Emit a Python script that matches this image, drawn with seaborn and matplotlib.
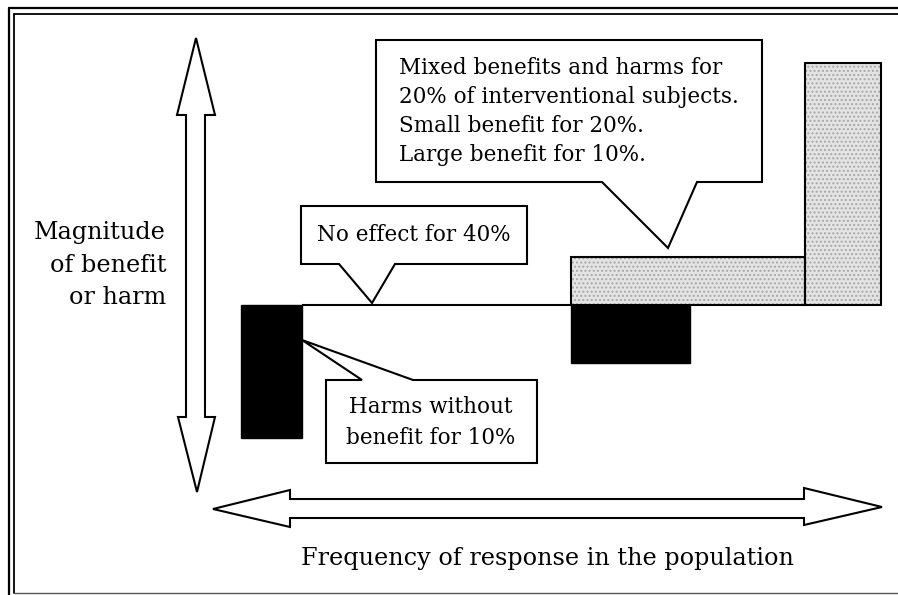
import matplotlib
matplotlib.use("Agg")
import matplotlib.pyplot as plt
from matplotlib.patches import Polygon
import seaborn as sns
import pandas as pd

# Response segments (x in % of population, y = magnitude, arbitrary units)
segments = ["Harms without benefit", "Mixed harm", "Mixed + small benefit", "Large benefit"]
seg_left = [0.0, 51.8, 51.8, 88.5]
seg_width = [9.6, 18.7, 36.7, 11.9]
seg_height = [-5.5, -2.4, 2.0, 10.0]
seg_shade = ["black", "black", "stipple", "stipple"]

# No-effect stretch sits on the baseline
no_effect_start = 9.6
no_effect_end = 51.8

# Text
y_label = ["Magnitude", "of benefit", "or harm"]
x_label = "Frequency of response in the population"
mixed_text = ["Mixed benefits and harms for",
              "20% of interventional subjects.",
              "Small benefit for 20%.",
              "Large benefit for 10%."]
no_effect_text = "No effect for 40%"
harms_text = ["Harms without", "benefit for 10%"]

df = pd.DataFrame({"segment": segments, "left": seg_left, "width": seg_width,
                   "height": seg_height, "shade": seg_shade})

sns.set_theme(style="white")
plt.rcParams["font.family"] = ["DejaVu Serif"]
plt.rcParams["text.color"] = "black"

W, H = 898, 595
fig = plt.figure(figsize=(W / 100, H / 100), dpi=100)
fig.patch.set_facecolor("white")

# data axes: scaled so the diagram lands where it does in the original
ax = fig.add_axes([0, 0, 1, 1])
ax.set_xlim(-241 / 6.37, (W - 241) / 6.37)
ax.set_ylim((305 - H) / 24.2, 305 / 24.2)
ax.axis("off")

for _, r in df.iterrows():
    if r["shade"] == "black":
        ax.bar(r["left"], r["height"], width=r["width"], align="edge",
               color="black", edgecolor="black", linewidth=1, zorder=3)
    else:
        ax.bar(r["left"], r["height"], width=r["width"], align="edge",
               color="#e4e4e4", edgecolor="#a8a8a8", hatch="....",
               linewidth=0, zorder=2)
        ax.bar(r["left"], r["height"], width=r["width"], align="edge",
               fill=False, edgecolor="black", linewidth=1.5, zorder=4)

ax.hlines(0, no_effect_start, no_effect_end, color="black", linewidth=1.5, zorder=2)

# decoration axes in pixel units
deco = fig.add_axes([0, 0, 1, 1], zorder=5)
deco.set_xlim(0, W)
deco.set_ylim(H, 0)
deco.axis("off")
deco.patch.set_alpha(0)

# frame: double on top and left, single thin line at the bottom
deco.plot([9, W], [8, 8], color="black", lw=1.6)
deco.plot([14, W], [14, 14], color="black", lw=1.3)
deco.plot([9, 9], [8, H], color="black", lw=1.6)
deco.plot([14, 14], [14, 593], color="black", lw=1.3)
deco.plot([14, W], [593, 593], color="#555555", lw=1.0)

def shape(pts):
    deco.add_patch(Polygon(pts, closed=True, facecolor="white",
                           edgecolor="black", linewidth=1.5, joinstyle="miter"))

# vertical double arrow
shape([(196, 38), (215, 115), (205, 115), (205, 417), (215, 417), (197, 492),
       (178, 417), (186, 417), (186, 115), (177, 115)])
# horizontal double arrow
shape([(213, 509), (290, 490), (290, 499), (804, 499), (804, 488), (882, 507),
       (804, 525), (804, 518), (290, 518), (290, 527)])

# callouts
shape([(376, 40), (762, 40), (762, 182), (697, 182), (668, 248), (602, 182), (376, 182)])
shape([(301, 206), (527, 206), (527, 264), (395, 264), (372, 303), (339, 264), (301, 264)])
shape([(326, 380), (362, 380), (302, 340), (413, 380), (537, 380), (537, 463), (326, 463)])

fs_big = 17.2
fs = 15.5
for i, t in enumerate(y_label):
    deco.text(166, 233 + 32 * i, t, ha="right", va="center", fontsize=fs_big)
deco.text(547, 558, x_label, ha="center", va="center", fontsize=fs_big)
for i, t in enumerate(mixed_text):
    deco.text(399, 68 + 29 * i, t, ha="left", va="center", fontsize=fs)
deco.text(317, 235, no_effect_text, ha="left", va="center", fontsize=fs)
for i, t in enumerate(harms_text):
    deco.text(431, 407 + 31 * i, t, ha="center", va="center", fontsize=fs)

fig.savefig("out.png", dpi=100)
